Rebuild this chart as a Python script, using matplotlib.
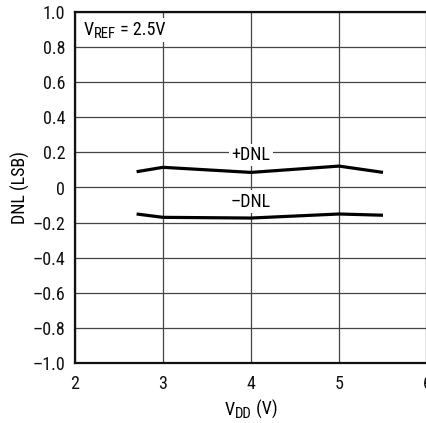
import matplotlib
matplotlib.use("Agg")
import matplotlib.pyplot as plt
from matplotlib import font_manager
from matplotlib.patches import Rectangle

names = {f.name for f in font_manager.fontManager.ttflist}
fam = next((n for n in ["Roboto Condensed", "Archivo Narrow", "Liberation Sans"] if n in names), "DejaVu Sans")
plt.rcParams['font.family'] = [fam, 'DejaVu Sans']

vdd = [2.7, 3.0, 4.0, 5.0, 5.5]
dnl_pos = [0.09, 0.115, 0.086, 0.122, 0.086]
dnl_neg = [-0.151, -0.17, -0.174, -0.151, -0.158]
xticks = [2, 3, 4, 5, 6]
yticks = [-1.0, -0.8, -0.6, -0.4, -0.2, 0, 0.2, 0.4, 0.6, 0.8, 1.0]
ytick_labels = ['\u20131.0', '\u20130.8', '\u20130.6', '\u20130.4', '\u20130.2', '0',
                '0.2', '0.4', '0.6', '0.8', '1.0']

W, H = 427, 423
FS = 13
fig = plt.figure(figsize=(W / 100, H / 100), dpi=100)
ax = fig.add_axes([75 / W, 1 - 363 / H, 352 / W, 351 / H])
ax.set_xlim(2, 6)
ax.set_ylim(-1, 1)
ax.set_xticks(xticks)
ax.set_xticklabels([str(t) for t in xticks])
ax.set_yticks(yticks)
ax.set_yticklabels(ytick_labels)
ax.grid(True, color='#444444', linewidth=0.9)
ax.tick_params(length=0, labelsize=FS, colors='#111111')
ax.tick_params(axis='y', pad=7)
ax.tick_params(axis='x', pad=8.5)
for s in ax.spines.values():
    s.set_linewidth(1.6)
    s.set_color('#111111')

ax.plot(vdd, dnl_pos, color='black', linewidth=2.3, solid_capstyle='butt', zorder=3)
ax.plot(vdd, dnl_neg, color='black', linewidth=2.3, solid_capstyle='butt', zorder=3)

bb = dict(facecolor='white', edgecolor='none', pad=1.5)
ax.text(4.0, 0.185, '+DNL', ha='center', va='center', fontsize=FS, bbox=bb, zorder=4)
ax.text(4.0, -0.08, '\u2013DNL', ha='center', va='center', fontsize=FS, bbox=bb, zorder=4)

renderer = fig.canvas.get_renderer()


def rich(x_px, base_px, parts, ha='left', white=False):
    widths = []
    for s, size, dy in parts:
        t = fig.text(0, 0, s, fontsize=size)
        widths.append(t.get_window_extent(renderer).width)
        t.remove()
    total = sum(widths)
    x = x_px - (total / 2 if ha == 'center' else 0)
    if white:
        fig.patches.append(Rectangle(((x - 3) / W, 1 - (base_px + 7) / H), (total + 6) / W,
                                     24 / H, transform=fig.transFigure, facecolor='white',
                                     edgecolor='none', zorder=4))
    for (s, size, dy), w in zip(parts, widths):
        fig.text(x / W, 1 - (base_px + dy) / H, s, fontsize=size, va='baseline',
                 ha='left', zorder=5)
        x += w


SUB = FS * 0.82
rich(84, 35, [('V', FS, 0), ('REF', SUB, 3), (' = 2.5V', FS, 0)], white=True)
rich(251, 415, [('V', FS, 0), ('DD', SUB, 3), (' (V)', FS, 0)], ha='center')
fig.text(20 / W, 1 - 188 / H, 'DNL (LSB)', rotation=90, ha='center', va='center', fontsize=FS)

fig.savefig('out.png', dpi=100)
